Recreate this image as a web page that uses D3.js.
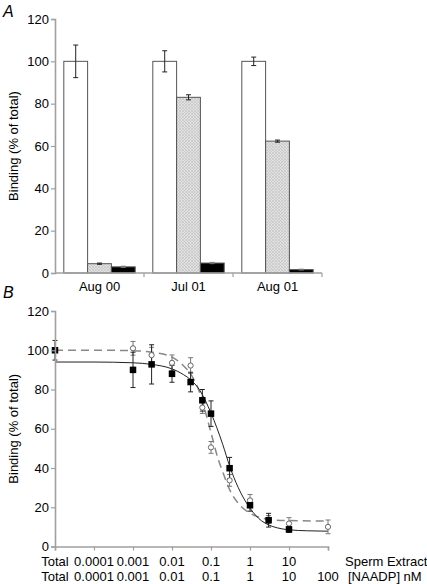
<!DOCTYPE html>
<html>
<head>
<meta charset="utf-8">
<script src="https://cdn.jsdelivr.net/npm/d3@7"></script>
<style>
  html, body { margin: 0; padding: 0; background: #fff; }
  svg { display: block; }
  text { font-family: "Liberation Sans", Arial, Helvetica, sans-serif; fill: #000; }
</style>
</head>
<body>
<svg id="chart" width="427" height="584"></svg>
<script>
// ---------------- Panel A data ----------------
const groups = ["Aug 00", "Jul 01", "Aug 01"];
const seriesNames = ["total", "gray", "black"];
const totalVals = [100, 100, 100];
const totalErr = [7.7, 5, 2];
const grayVals = [4.4, 83, 62.3];
const grayErr = [0.3, 1.2, 0.5];
const blackVals = [2.9, 4.7, 1.6];
const blackErr = [0.3, 0.3, 0.2];
const yTicksA = [0, 20, 40, 60, 80, 100, 120];

// ---------------- Panel B data ----------------
const TOTAL_POS = 1e-5; // position of "Total" on the log axis
const spermConc = [TOTAL_POS, 0.001, 0.003, 0.01, 0.03, 0.06, 0.1, 0.3, 1, 3, 10];
const spermVals = [100, 90, 92.8, 88, 83.8, 74.5, 67.7, 39.9, 21, 13.4, 8.7];
const spermErr = [5, 9, 10, 4.3, 5, 5.5, 6.5, 5.5, 3, 3.5, 1.5];

const naadpConc = [0.001, 0.003, 0.01, 0.03, 0.06, 0.1, 0.3, 1, 3, 10, 100];
const naadpVals = [101, 97.5, 93.6, 92.2, 70.8, 50.5, 33.7, 23.5, 13.8, 11.7, 10];
const naadpErr = [3.5, 4, 4, 4, 3, 3, 3, 3, 2, 3, 3.5];

// fitted curves
const spermFitX = [TOTAL_POS, 1e-4, 1e-3, 3e-3, 0.01, 0.02, 0.03, 0.05, 0.1, 0.2, 0.3, 0.5, 1, 2, 3, 5, 10, 30, 100];
const spermFitY = [94, 94, 93.6, 92.8, 90.5, 87.5, 85, 80, 68, 52, 41, 30, 19.5, 13, 11, 9.5, 8.5, 8, 7.8];
const naadpFitX = [TOTAL_POS, 1e-4, 1e-3, 3e-3, 0.01, 0.02, 0.03, 0.05, 0.1, 0.15, 0.2, 0.3, 0.5, 1, 2, 3, 10, 100];
const naadpFitY = [100, 100, 99.8, 99, 96.5, 92, 88, 79, 58, 45, 38, 29, 22, 17, 14.5, 13.8, 13.2, 13];

const xTicksB = [TOTAL_POS, 1e-4, 1e-3, 1e-2, 1e-1, 1, 10, 100];
const xRow1Labels = ["Total", "0.0001", "0.001", "0.01", "0.1", "1", "10", ""];
const xRow2Labels = ["Total", "0.0001", "0.001", "0.01", "0.1", "1", "10", "100"];
const yTicksB = [0, 20, 40, 60, 80, 100, 120];

// ---------------- drawing ----------------
const svg = d3.select("#chart");
const AXIS_COLOR = "#a0a0a0";
const FS = 13;

const defs = svg.append("defs");
const pat = defs.append("pattern").attr("id", "hatch")
  .attr("patternUnits", "userSpaceOnUse").attr("width", 3).attr("height", 3);
pat.append("rect").attr("width", 3).attr("height", 3).attr("fill", "#e2e2e2");
pat.append("path").attr("d", "M0,3 L3,0 M0,0 L3,3").attr("stroke", "#c4c4c4").attr("stroke-width", 0.7);

function styleAxis(g) {
  g.select(".domain").attr("stroke", AXIS_COLOR).attr("stroke-width", 1.6);
  g.selectAll(".tick line").attr("stroke", AXIS_COLOR).attr("stroke-width", 1.2);
  g.selectAll(".tick text").attr("font-size", FS).attr("fill", "#000")
    .attr("font-family", '"Liberation Sans", Arial, sans-serif');
}

// ===== Panel A =====
const xA = d3.scaleBand().domain(groups).range([55, 322]).paddingInner(0).paddingOuter(0);
const xSub = d3.scaleBand().domain(seriesNames).range([0, xA.bandwidth()]).paddingOuter(0.37).paddingInner(0);
const yA = d3.scaleLinear().domain([0, 120]).range([273, 19]);

svg.append("text").attr("x", 3).attr("y", 17).attr("font-size", 16).attr("font-style", "italic").text("A");

const gA = svg.append("g");
const rows = groups.map((g, i) => ({
  g,
  items: [
    { s: "total", v: totalVals[i], e: totalErr[i], fill: "#fff" },
    { s: "gray", v: grayVals[i], e: grayErr[i], fill: "url(#hatch)" },
    { s: "black", v: blackVals[i], e: blackErr[i], fill: "#000" }
  ]
}));

rows.forEach(r => {
  r.items.forEach(it => {
    const x0 = xA(r.g) + xSub(it.s);
    gA.append("rect")
      .attr("x", x0).attr("y", yA(it.v))
      .attr("width", xSub.bandwidth()).attr("height", yA(0) - yA(it.v))
      .attr("fill", it.fill).attr("stroke", "#555").attr("stroke-width", 1);
    const cx = x0 + xSub.bandwidth() / 2;
    const cw = 2.5;
    const path = `M${cx},${yA(it.v + it.e)}V${yA(it.v - it.e)}` +
      `M${cx - cw},${yA(it.v + it.e)}H${cx + cw}M${cx - cw},${yA(it.v - it.e)}H${cx + cw}`;
    gA.append("path").attr("d", path).attr("stroke", it.s === "black" ? "#777" : "#222").attr("stroke-width", 1).attr("fill", "none");
  });
});

const axYA = svg.append("g").attr("transform", "translate(55,0)")
  .call(d3.axisLeft(yA).tickValues(yTicksA).tickSize(4).tickPadding(2));
styleAxis(axYA);

const axXA = svg.append("g").attr("transform", `translate(0,${yA(0)})`)
  .call(d3.axisBottom(xA).tickSize(0).tickPadding(6));
styleAxis(axXA);
axXA.select(".domain").attr("d", `M55,0H322`);
axXA.selectAll(".tick text").attr("dy", "0.95em");
groups.forEach(g => {
  const xb = xA(g) + xA.bandwidth();
  axXA.append("line").attr("x1", xb).attr("x2", xb).attr("y1", 0).attr("y2", 4)
    .attr("stroke", AXIS_COLOR).attr("stroke-width", 1.2);
});

svg.append("text")
  .attr("transform", `translate(18,${(yA(0) + yA(120)) / 2}) rotate(-90)`)
  .attr("text-anchor", "middle").attr("font-size", FS).text("Binding (% of total)");

// ===== Panel B =====
const xB = d3.scaleLog().domain([TOTAL_POS, 100]).range([55, 328]);
const yB = d3.scaleLinear().domain([0, 120]).range([546.5, 311]);

svg.append("text").attr("x", 3).attr("y", 298).attr("font-size", 16).attr("font-style", "italic").text("B");

const gB = svg.append("g");
const line = d3.line().x(d => xB(d[0])).y(d => yB(d[1])).curve(d3.curveMonotoneX);

gB.append("path").datum(naadpFitX.map((x, i) => [x, naadpFitY[i]]))
  .attr("d", line).attr("fill", "none").attr("stroke", "#888").attr("stroke-width", 1.5)
  .attr("stroke-dasharray", "8,5");
gB.append("path").datum(spermFitX.map((x, i) => [x, spermFitY[i]]))
  .attr("d", line).attr("fill", "none").attr("stroke", "#222").attr("stroke-width", 1);

function errBar(g, x, v, e, color) {
  const cx = xB(x), cw = 2.5;
  g.append("path")
    .attr("d", `M${cx},${yB(v + e)}V${yB(v - e)}M${cx - cw},${yB(v + e)}H${cx + cw}M${cx - cw},${yB(v - e)}H${cx + cw}`)
    .attr("stroke", color).attr("stroke-width", 1).attr("fill", "none");
}

naadpConc.forEach((x, i) => errBar(gB, x, naadpVals[i], naadpErr[i], "#777"));
spermConc.forEach((x, i) => errBar(gB, x, spermVals[i], spermErr[i], "#222"));

gB.selectAll("circle.naadp").data(naadpConc).enter().append("circle")
  .attr("class", "naadp")
  .attr("cx", d => xB(d)).attr("cy", (d, i) => yB(naadpVals[i])).attr("r", 2.6)
  .attr("fill", "#fff").attr("stroke", "#666").attr("stroke-width", 1);

const sq = 6.5;
gB.selectAll("rect.sperm").data(spermConc).enter().append("rect")
  .attr("class", "sperm")
  .attr("x", d => xB(d) - sq / 2).attr("y", (d, i) => yB(spermVals[i]) - sq / 2)
  .attr("width", sq).attr("height", sq).attr("fill", "#000");

const axYB = svg.append("g").attr("transform", "translate(55,0)")
  .call(d3.axisLeft(yB).tickValues(yTicksB).tickSize(4).tickPadding(2));
styleAxis(axYB);

const axXB = svg.append("g").attr("transform", `translate(0,${yB(0)})`)
  .call(d3.axisBottom(xB).tickValues(xTicksB).tickSize(4).tickFormat(""));
styleAxis(axXB);

xTicksB.forEach((t, i) => {
  svg.append("text").attr("x", xB(t)).attr("y", 565.5).attr("text-anchor", "middle")
    .attr("font-size", FS).text(xRow1Labels[i]);
  svg.append("text").attr("x", xB(t)).attr("y", 581).attr("text-anchor", "middle")
    .attr("font-size", FS).text(xRow2Labels[i]);
});
svg.append("text").attr("x", 345).attr("y", 565.5).attr("font-size", FS).text("Sperm Extract");
svg.append("text").attr("x", 348).attr("y", 581).attr("font-size", FS).text("[NAADP] nM");

svg.append("text")
  .attr("transform", `translate(18,${(yB(0) + yB(120)) / 2}) rotate(-90)`)
  .attr("text-anchor", "middle").attr("font-size", FS).text("Binding (% of total)");
</script>
</body>
</html>
